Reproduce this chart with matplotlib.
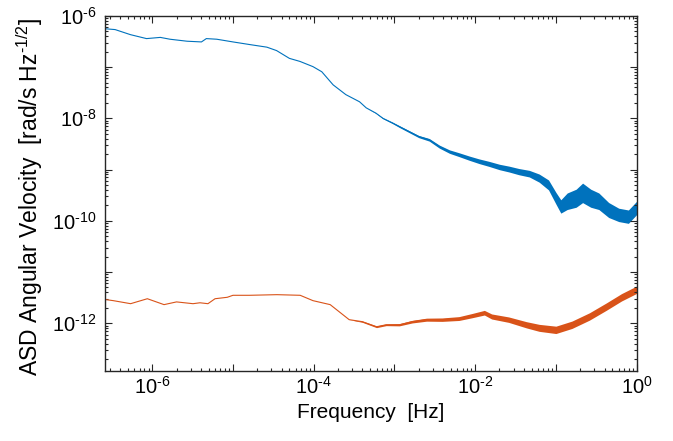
import numpy as np
import matplotlib
matplotlib.use("Agg")
import matplotlib.pyplot as plt
from matplotlib.ticker import LogLocator, FuncFormatter, NullFormatter

plt.rcParams['font.family'] = ['Liberation Sans', 'DejaVu Sans']
plt.rcParams['mathtext.fontset'] = 'custom'
plt.rcParams['mathtext.rm'] = 'Liberation Sans'
plt.rcParams['mathtext.it'] = 'Liberation Sans:italic'
plt.rcParams['mathtext.bf'] = 'Liberation Sans:bold'

# blue trace: frequency [Hz], ASD value, noise spread factor
blue_f = [2.63e-7, 3.47e-7, 5.37e-7, 8.5e-7, 1.26e-6, 1.66e-6, 2.7e-6, 4.07e-6, 4.68e-6,
          6.3e-6, 1.0e-5, 1.62e-5, 2.63e-5, 3.47e-5, 5.0e-5, 6.76e-5, 9.8e-5, 1.26e-4,
          1.74e-4, 2.5e-4, 3.7e-4, 4.47e-4, 5.9e-4, 7.2e-4, 9.5e-4, 1.15e-3,
          2.0e-3, 2.7e-3, 3.6e-3, 4.8e-3, 6.3e-3, 8.5e-3, 1.12e-2, 1.48e-2, 2.0e-2,
          2.63e-2, 3.47e-2, 4.68e-2, 6.2e-2, 8.1e-2, 0.1, 0.115, 0.138, 0.178, 0.214,
          0.27, 0.34, 0.45, 0.6, 0.79, 1.0]
blue_v = [5.6e-7, 5.4e-7, 4.3e-7, 3.6e-7, 3.8e-7, 3.5e-7, 3.2e-7, 3.1e-7, 3.6e-7,
          3.5e-7, 3.1e-7, 2.75e-7, 2.45e-7, 2.1e-7, 1.48e-7, 1.29e-7, 1.02e-7, 8.1e-8,
          4.5e-8, 2.9e-8, 2.1e-8, 1.6e-8, 1.26e-8, 1.0e-8, 8.1e-9, 6.9e-9,
          4.4e-9, 3.8e-9, 2.8e-9, 2.24e-9, 1.95e-9, 1.66e-9, 1.45e-9, 1.29e-9, 1.12e-9,
          1.02e-9, 9.1e-10, 8.3e-10, 6.8e-10, 5.0e-10, 2.75e-10, 1.9e-10, 2.4e-10, 2.75e-10, 3.5e-10,
          2.75e-10, 2.4e-10, 1.62e-10, 1.3e-10, 1.2e-10, 1.78e-10]
blue_s = [1.0, 1.0, 1.0, 1.0, 1.0, 1.0, 1.0, 1.0, 1.0,
          1.0, 1.0, 1.0, 1.0, 1.0, 1.0, 1.0, 1.0, 1.0,
          1.0, 1.0, 1.0, 1.0, 1.01, 1.02, 1.03, 1.04,
          1.05, 1.06, 1.07, 1.08, 1.09, 1.1, 1.11, 1.12, 1.13,
          1.14, 1.15, 1.16, 1.2, 1.25, 1.3, 1.35, 1.45, 1.5, 1.55,
          1.5, 1.45, 1.4, 1.35, 1.35, 1.35]

# orange trace
orange_f = [2.6e-7, 3.3e-7, 5.4e-7, 8.7e-7, 1.4e-6, 2.0e-6, 3.2e-6, 3.9e-6, 4.9e-6,
            6.0e-6, 8.5e-6, 1.0e-5, 1.6e-5, 3.5e-5, 6.8e-5, 9.8e-5, 1.6e-4, 2.75e-4,
            4.0e-4, 6.0e-4, 7.9e-4, 1.15e-3, 1.66e-3, 2.5e-3, 3.9e-3, 6.3e-3, 9.1e-3,
            1.3e-2, 1.6e-2, 2.6e-2, 4.3e-2, 6.2e-2, 0.1, 0.158, 0.26, 0.42, 0.65, 1.0]
orange_v = [2.9e-12, 2.75e-12, 2.4e-12, 3.0e-12, 2.3e-12, 2.6e-12, 2.4e-12, 2.5e-12, 2.4e-12,
            3.0e-12, 3.2e-12, 3.5e-12, 3.5e-12, 3.6e-12, 3.5e-12, 2.75e-12, 2.3e-12, 1.17e-12,
            1.07e-12, 8.5e-13, 9.3e-13, 9.3e-13, 1.07e-12, 1.17e-12, 1.17e-12, 1.23e-12, 1.4e-12,
            1.6e-12, 1.35e-12, 1.17e-12, 9.3e-13, 8.1e-13, 7.4e-13, 9.3e-13, 1.35e-12, 2.1e-12, 3.2e-12, 4.5e-12]
orange_s = [1.0, 1.0, 1.0, 1.0, 1.0, 1.0, 1.0, 1.0, 1.0,
            1.0, 1.0, 1.0, 1.0, 1.0, 1.0, 1.0, 1.0, 1.0,
            1.03, 1.04, 1.04, 1.05, 1.06, 1.07, 1.08, 1.09, 1.1,
            1.11, 1.12, 1.13, 1.15, 1.17, 1.18, 1.18, 1.18, 1.18, 1.18, 1.18]

blue = '#0072BD'
orange = '#D95319'
axcol = '#262626'

fig = plt.figure(figsize=(6.73, 4.41), dpi=100)
ax = fig.add_axes([0.156, 0.159, 0.790, 0.805])

for f, v, s, c in [(blue_f, blue_v, blue_s, blue), (orange_f, orange_v, orange_s, orange)]:
    f = np.array(f); v = np.array(v); s = np.array(s)
    ax.fill_between(f, v / s, v * s, color=c, lw=0)
    ax.plot(f, v, color=c, lw=0.8)

ax.set_xscale('log')
ax.set_yscale('log')
ax.set_xlim(2.6e-7, 1)
ax.set_ylim(1.17e-13, 1e-6)

ax.xaxis.set_major_locator(LogLocator(base=10, numticks=20))
ax.yaxis.set_major_locator(LogLocator(base=10, numticks=20))
ax.xaxis.set_minor_locator(LogLocator(base=10, subs=np.arange(2, 10), numticks=20))
ax.yaxis.set_minor_locator(LogLocator(base=10, subs=np.arange(2, 10), numticks=20))

def even_dec(x, pos):
    e = int(round(np.log10(x)))
    if e % 2 == 0:
        if e < 0:
            return r'$\mathregular{10^{\text{-}%d}}$' % (-e)
        return r'$\mathregular{10^{%d}}$' % e
    return ''

ax.xaxis.set_major_formatter(FuncFormatter(even_dec))
ax.yaxis.set_major_formatter(FuncFormatter(even_dec))
ax.xaxis.set_minor_formatter(NullFormatter())
ax.yaxis.set_minor_formatter(NullFormatter())

ax.tick_params(which='both', direction='in', top=True, right=True, colors=axcol,
               labelcolor='black', labelsize=14.5, width=0.8)
ax.tick_params(which='major', length=5)
ax.tick_params(which='minor', length=2.5)
ax.tick_params(axis='y', pad=6)
for sp in ax.spines.values():
    sp.set_color(axcol)
    sp.set_linewidth(1.0)

ax.set_xlabel('Frequency  [Hz]', fontsize=15)
ax.set_ylabel(r'ASD Angular Velocity  [rad/s Hz$^{\text{-}1/2}$]', fontsize=16.5)
ax.yaxis.set_label_coords(-0.112, 0.489)

fig.savefig('out.png', dpi=100)
